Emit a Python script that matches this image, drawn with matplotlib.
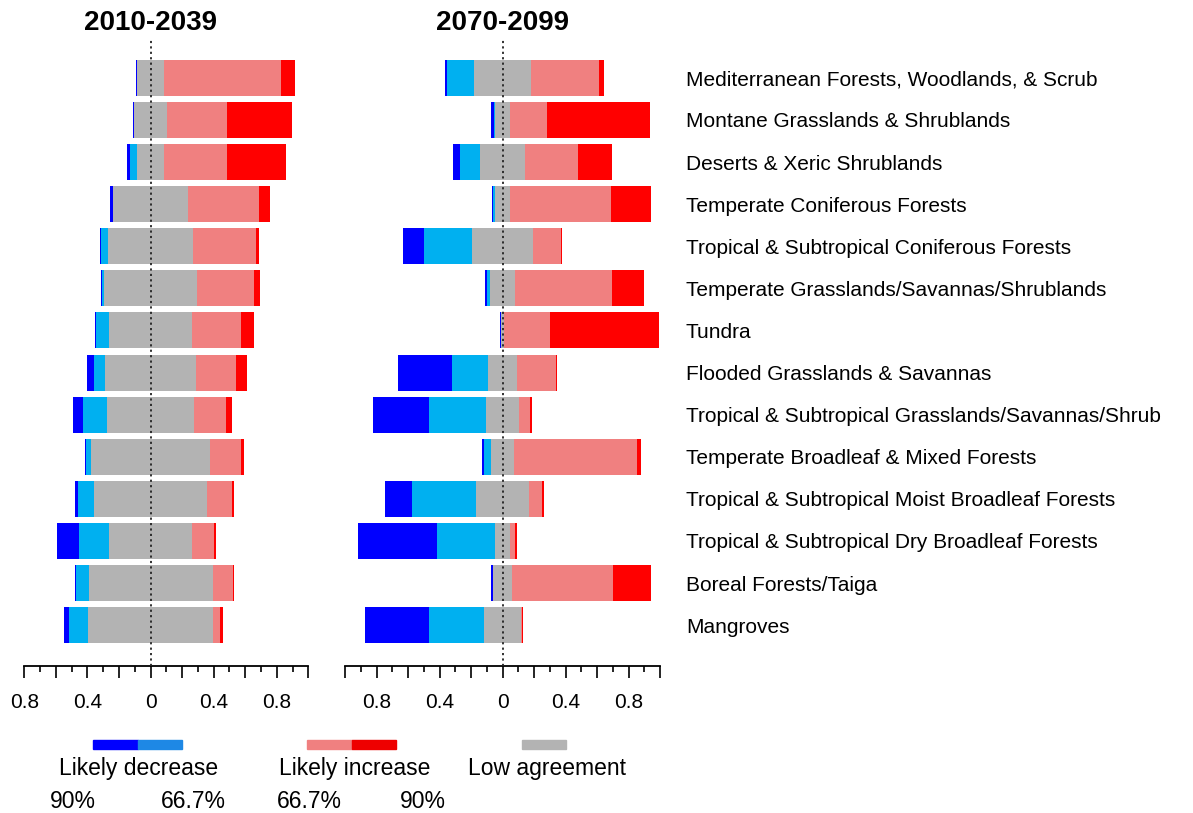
import matplotlib
matplotlib.use("Agg")
import matplotlib.pyplot as plt
import matplotlib.transforms as mtransforms
from matplotlib.patches import Rectangle

plt.rcParams['font.family'] = ['Liberation Sans', 'DejaVu Sans']

biomes = [
    "Mediterranean Forests, Woodlands, & Scrub",
    "Montane Grasslands & Shrublands",
    "Deserts & Xeric Shrublands",
    "Temperate Coniferous Forests",
    "Tropical & Subtropical Coniferous Forests",
    "Temperate Grasslands/Savannas/Shrublands",
    "Tundra",
    "Flooded Grasslands & Savannas",
    "Tropical & Subtropical Grasslands/Savannas/Shrub",
    "Temperate Broadleaf & Mixed Forests",
    "Tropical & Subtropical Moist Broadleaf Forests",
    "Tropical & Subtropical Dry Broadleaf Forests",
    "Boreal Forests/Taiga",
    "Mangroves",
]

# 2010-2039: share of area per class
dec90_early = [0.011, 0.008, 0.019, 0.015, 0.006, 0.011, 0.006, 0.040, 0.066, 0.008, 0.019, 0.144, 0.006, 0.032]
dec67_early = [0.000, 0.000, 0.048, 0.000, 0.045, 0.008, 0.083, 0.072, 0.155, 0.028, 0.104, 0.189, 0.079, 0.119]
low_early   = [0.167, 0.208, 0.170, 0.478, 0.533, 0.594, 0.524, 0.575, 0.546, 0.758, 0.713, 0.524, 0.786, 0.792]
inc67_early = [0.741, 0.380, 0.397, 0.450, 0.403, 0.359, 0.314, 0.255, 0.206, 0.193, 0.161, 0.142, 0.127, 0.047]
inc90_early = [0.089, 0.410, 0.374, 0.066, 0.021, 0.038, 0.081, 0.066, 0.036, 0.019, 0.011, 0.011, 0.011, 0.017]

# 2070-2099
dec90_late = [0.011, 0.017, 0.045, 0.008, 0.132, 0.008, 0.011, 0.342, 0.357, 0.015, 0.176, 0.503, 0.011, 0.408]
dec67_late = [0.172, 0.011, 0.129, 0.013, 0.304, 0.025, 0.000, 0.227, 0.365, 0.045, 0.406, 0.369, 0.000, 0.348]
low_late   = [0.363, 0.091, 0.280, 0.089, 0.389, 0.153, 0.015, 0.187, 0.204, 0.142, 0.331, 0.089, 0.119, 0.240]
inc67_late = [0.431, 0.236, 0.342, 0.645, 0.176, 0.616, 0.293, 0.248, 0.070, 0.781, 0.085, 0.032, 0.639, 0.006]
inc90_late = [0.032, 0.654, 0.212, 0.253, 0.008, 0.204, 0.690, 0.006, 0.013, 0.025, 0.011, 0.013, 0.242, 0.006]

tick_labels_left = ["0.8", "", "0.4", "", "0", "", "0.4", "", "0.8", ""]
tick_labels_right = ["", "0.8", "", "0.4", "", "0", "", "0.4", "", "0.8", ""]

c_d90, c_d67 = "#0000FF", "#00B0F0"
c_low = "#B3B3B3"
c_i67, c_i90 = "#F08080", "#FF0000"

W, H = 1193, 813
fig = plt.figure(figsize=(W / 100, H / 100), dpi=100)

y = list(range(len(biomes)))


def panel(ax, d90, d67, low, i67, i90, xlim, ticks, labels, title):
    half = [v / 2 for v in low]
    ax.barh(y, low, left=[-h for h in half], height=0.855, color=c_low)
    ax.barh(y, d67, left=[-h - a for h, a in zip(half, d67)], height=0.855, color=c_d67)
    ax.barh(y, d90, left=[-h - a - b for h, a, b in zip(half, d67, d90)], height=0.855, color=c_d90)
    ax.barh(y, i67, left=half, height=0.855, color=c_i67)
    ax.barh(y, i90, left=[h + a for h, a in zip(half, i67)], height=0.855, color=c_i90)
    ax.axvline(0, color="#222222", linestyle=(0, (1.2, 1.8)), linewidth=1.3, zorder=5)
    ax.set_xlim(*xlim)
    ax.set_ylim(13.97, -0.90)
    for s in ["top", "left", "right"]:
        ax.spines[s].set_visible(False)
    ax.spines["bottom"].set_linewidth(1.3)
    ax.set_yticks([])
    ax.set_xticks(ticks)
    ax.set_xticklabels(labels, fontsize=15)
    ax.set_xticks([t + 0.1 for t in ticks[:-1]], minor=True)
    ax.tick_params(axis="x", which="major", length=8.6, width=1.2, pad=11)
    ax.tick_params(axis="x", which="minor", length=4.3, width=1.2)
    ax.text(0, -1.14, title, ha="center", va="baseline", fontsize=20, fontweight="bold",
            transform=ax.transData)


ax1 = fig.add_axes([24.3 / W, 1 - 666 / H, 284 / W, 626 / H])
ax2 = fig.add_axes([345 / W, 1 - 666 / H, 315 / W, 626 / H])

ticks1 = [round(-0.8 + 0.2 * i, 1) for i in range(10)]
ticks2 = [round(-1.0 + 0.2 * i, 1) for i in range(11)]
panel(ax1, dec90_early, dec67_early, low_early, inc67_early, inc90_early,
      (-0.8, 1.0), ticks1, tick_labels_left, "2010-2039")
panel(ax2, dec90_late, dec67_late, low_late, inc67_late, inc90_late,
      (-1.0, 1.0), ticks2, tick_labels_right, "2070-2099")

trans = mtransforms.blended_transform_factory(fig.transFigure, ax2.transData)
for i, name in enumerate(biomes):
    ax2.text(686 / W, i, name, transform=trans, ha="left", va="center_baseline", fontsize=15,
             clip_on=False)


# legend
def box(x0, x1, color):
    fig.patches.append(Rectangle((x0 / W, 1 - 749 / H), (x1 - x0) / W, 9.5 / H,
                                 transform=fig.transFigure, color=color))


box(93.3, 137.7, "#0000FF")
box(137.7, 181.7, "#1E88E5")
box(307.3, 351.7, "#F08080")
box(351.7, 395.7, "#EE0000")
box(521.7, 565.7, "#B3B3B3")

fig.text(138.5 / W, 1 - 768 / H, "Likely decrease", ha="center", va="center", fontsize=16.5)
fig.text(355 / W, 1 - 768 / H, "Likely increase", ha="center", va="center", fontsize=16.5)
fig.text(547.5 / W, 1 - 768 / H, "Low agreement", ha="center", va="center", fontsize=16.5)
for xc, s in [(73, "90%"), (193.5, "66.7%"), (309, "66.7%"), (423, "90%")]:
    fig.text(xc / W, 1 - 801 / H, s, ha="center", va="center", fontsize=16.5)

fig.savefig("out.png", dpi=100)
